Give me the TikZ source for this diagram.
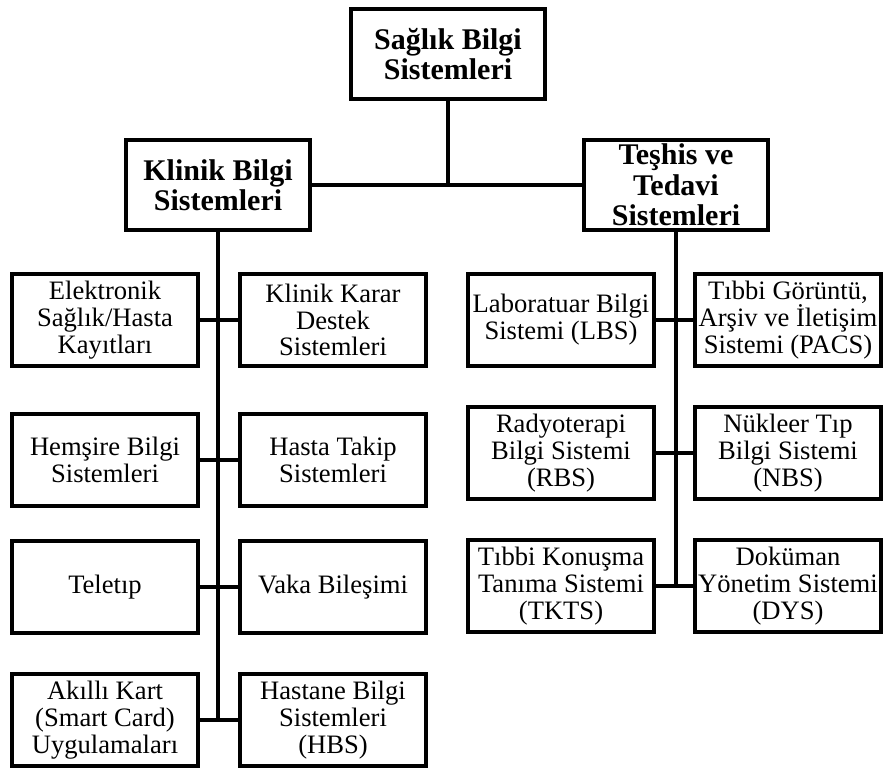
\documentclass[tikz,border=0pt]{standalone}
\usepackage{fontspec}
\setmainfont{Liberation Serif}
\usepackage{tikz}

\begin{document}
\begin{tikzpicture}
	[x=0.5pt,y=-0.5pt,
	head/.style={draw,line width=2.3pt,align=center,inner sep=0pt,minimum width=92pt,minimum height=45pt,font=\bfseries\fontsize{15}{15.2}\selectfont},
	sub/.style={draw,line width=2pt,align=center,inner sep=0pt,minimum width=93pt,minimum height=46pt,font=\fontsize{13.3}{13.4}\selectfont},
	conn/.style={line width=2.3pt,black}]
	\useasboundingbox (0,0) rectangle (885,769);
	% top level
	\node[head,minimum width=97pt] (sbs) at (448,54) {Sağlık Bilgi\\Sistemleri};
	\node[head] (kbs) at (218,185) {Klinik Bilgi\\Sistemleri};
	\node[head] (tts) at (676,185) {Teşhis ve\\Tedavi\\Sistemleri};
	\draw[conn] (sbs.south) -- (sbs.south |- kbs.east);
	\draw[conn] (kbs.east) -- (tts.west);
	
	% klinik bilgi sistemleri
	\node[sub] (eshk) at (105,320) {Elektronik\\Sağlık/Hasta\\Kayıtları};
	\node[sub] (kkds) at (333,320) {Klinik Karar\\Destek\\Sistemleri};
	\node[sub] (hems) at (105,460) {Hemşire Bilgi\\Sistemleri};
	\node[sub] (htak) at (333,460) {Hasta Takip\\Sistemleri};
	\node[sub] (telet) at (105,587) {Teletıp};
	\node[sub] (vaka) at (333,587) {Vaka Bileşimi};
	\node[sub] (akk) at (105,720) {Akıllı Kart\\(Smart Card)\\Uygulamaları};
	\node[sub] (hbs) at (333,720) {Hastane Bilgi\\Sistemleri\\(HBS)};
	\draw[conn] (kbs.south) -- (kbs.south |- akk.east);
	\draw[conn] (eshk.east) -- (kkds.west);
	\draw[conn] (hems.east) -- (htak.west);
	\draw[conn] (telet.east) -- (vaka.west);
	\draw[conn] (akk.east) -- (hbs.west);
	
	% teshis ve tedavi sistemleri
	\node[sub] (lbs) at (561,320) {Laboratuar Bilgi\\Sistemi (LBS)};
	\node[sub] (pacs) at (788,320) {Tıbbi Görüntü,\\Arşiv ve İletişim\\Sistemi (PACS)};
	\node[sub] (rbs) at (561,453) {Radyoterapi\\Bilgi Sistemi\\(RBS)};
	\node[sub] (nbs) at (788,453) {Nükleer Tıp\\Bilgi Sistemi\\(NBS)};
	\node[sub] (tkts) at (561,586) {Tıbbi Konuşma\\Tanıma Sistemi\\(TKTS)};
	\node[sub] (dys) at (788,586) {Doküman\\Yönetim Sistemi\\(DYS)};
	\draw[conn] (tts.south) -- (tts.south |- tkts.east);
	\draw[conn] (lbs.east) -- (pacs.west);
	\draw[conn] (rbs.east) -- (nbs.west);
	\draw[conn] (tkts.east) -- (dys.west);
\end{tikzpicture}
\end{document}
